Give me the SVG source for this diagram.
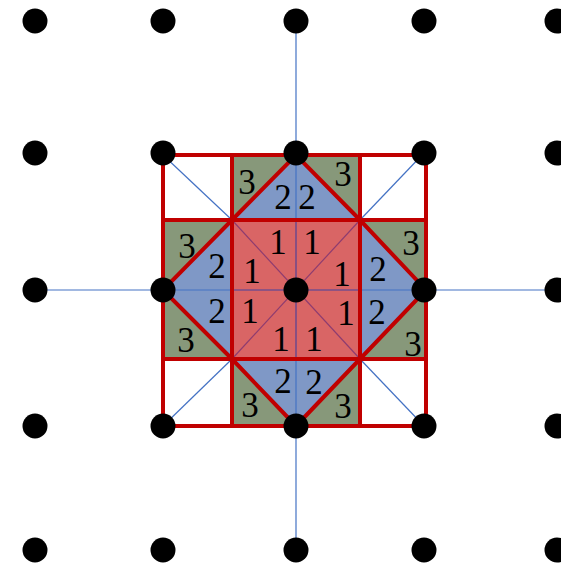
<svg xmlns="http://www.w3.org/2000/svg" width="561" height="565" viewBox="0 0 561 565">
<style>
.r{fill:#D96565}
.b{fill:#7F98C6}
.g{fill:#87987A}
.thin{stroke:#4472C4;stroke-width:1.2;fill:none}
.pur{stroke:#8E3C70;stroke-width:1.2;fill:none}
.thick{stroke:#C00000;stroke-width:4;fill:none;stroke-linejoin:miter}
.dot{fill:#000}
text{font-family:"Liberation Serif","Times New Roman",serif;font-size:35px;fill:#000;text-anchor:middle}
</style>
<rect width="561" height="565" fill="#fff"/>
<g id="fills">
<rect class="r" x="232" y="220" width="128" height="139"/>
<polygon class="b" points="232,220 296,155 360,220"/>
<polygon class="b" points="232,220 163,290 232,359"/>
<polygon class="b" points="360,220 426,290 360,359"/>
<polygon class="b" points="232,359 296,426 360,359"/>
<polygon class="g" points="232,155 296,155 232,220"/>
<polygon class="g" points="296,155 360,155 360,220"/>
<polygon class="g" points="163,220 232,220 163,290"/>
<polygon class="g" points="163,290 163,359 232,359"/>
<polygon class="g" points="360,220 426,220 426,290"/>
<polygon class="g" points="426,290 426,359 360,359"/>
<polygon class="g" points="232,359 232,426 296,426"/>
<polygon class="g" points="296,426 360,426 360,359"/>
</g>
<g id="connectors">
<line class="thin" x1="296" y1="21" x2="296" y2="550"/>
<line class="thin" x1="35" y1="290" x2="557" y2="290"/>
<line class="thin" x1="163" y1="155" x2="232" y2="220"/>
<line class="thin" x1="424" y1="153" x2="360" y2="220"/>
<line class="thin" x1="163" y1="426" x2="232" y2="359"/>
<line class="thin" x1="424" y1="426" x2="360" y2="359"/>
<line class="pur" x1="296" y1="220" x2="296" y2="359"/>
<line class="pur" x1="232" y1="290" x2="360" y2="290"/>
<line class="pur" x1="232" y1="220" x2="360" y2="359"/>
<line class="pur" x1="360" y1="220" x2="232" y2="359"/>
<rect class="thick" x="163" y="155" width="263" height="271"/>
<line class="thick" x1="232" y1="155" x2="232" y2="426"/>
<line class="thick" x1="360" y1="155" x2="360" y2="426"/>
<line class="thick" x1="163" y1="220" x2="426" y2="220"/>
<line class="thick" x1="163" y1="359" x2="426" y2="359"/>
<polygon class="thick" points="232,220 296,155 360,220 426,290 360,359 296,426 232,359 163,290"/>
</g>
<g id="dots">
<g id="n00"><circle class="dot" cx="35" cy="21" r="12.5"/></g>
<g id="n01"><circle class="dot" cx="163" cy="21" r="12.5"/></g>
<g id="n02"><circle class="dot" cx="296" cy="21" r="12.5"/></g>
<g id="n03"><circle class="dot" cx="424" cy="21" r="12.5"/></g>
<g id="n04"><circle class="dot" cx="557" cy="21" r="12.5"/></g>
<g id="n10"><circle class="dot" cx="35" cy="153" r="12.5"/></g>
<g id="n11"><circle class="dot" cx="163" cy="153" r="12.5"/></g>
<g id="n12"><circle class="dot" cx="296" cy="153" r="12.5"/></g>
<g id="n13"><circle class="dot" cx="424" cy="153" r="12.5"/></g>
<g id="n14"><circle class="dot" cx="557" cy="153" r="12.5"/></g>
<g id="n20"><circle class="dot" cx="35" cy="290" r="12.5"/></g>
<g id="n21"><circle class="dot" cx="163" cy="290" r="12.5"/></g>
<g id="n22"><circle class="dot" cx="296" cy="290" r="12.5"/></g>
<g id="n23"><circle class="dot" cx="424" cy="290" r="12.5"/></g>
<g id="n24"><circle class="dot" cx="557" cy="290" r="12.5"/></g>
<g id="n30"><circle class="dot" cx="35" cy="426" r="12.5"/></g>
<g id="n31"><circle class="dot" cx="163" cy="426" r="12.5"/></g>
<g id="n32"><circle class="dot" cx="296" cy="426" r="12.5"/></g>
<g id="n33"><circle class="dot" cx="424" cy="426" r="12.5"/></g>
<g id="n34"><circle class="dot" cx="557" cy="426" r="12.5"/></g>
<g id="n40"><circle class="dot" cx="35" cy="550" r="12.5"/></g>
<g id="n41"><circle class="dot" cx="163" cy="550" r="12.5"/></g>
<g id="n42"><circle class="dot" cx="296" cy="550" r="12.5"/></g>
<g id="n43"><circle class="dot" cx="424" cy="550" r="12.5"/></g>
<g id="n44"><circle class="dot" cx="557" cy="550" r="12.5"/></g>
</g>
<g id="labels">
<text x="247" y="194">3</text>
<text x="283" y="209">2</text>
<text x="307" y="209">2</text>
<text x="343" y="186">3</text>
<text x="187" y="258">3</text>
<text x="217" y="278">2</text>
<text x="217" y="323">2</text>
<text x="186" y="352">3</text>
<text x="278" y="254">1</text>
<text x="312" y="254">1</text>
<text x="252" y="283">1</text>
<text x="342" y="286">1</text>
<text x="250" y="323">1</text>
<text x="346" y="325">1</text>
<text x="281" y="351">1</text>
<text x="314" y="351">1</text>
<text x="411" y="255">3</text>
<text x="378" y="281">2</text>
<text x="377" y="324">2</text>
<text x="413" y="356">3</text>
<text x="283" y="393">2</text>
<text x="314" y="394">2</text>
<text x="250" y="417">3</text>
<text x="343" y="418">3</text>
</g>
</svg>
